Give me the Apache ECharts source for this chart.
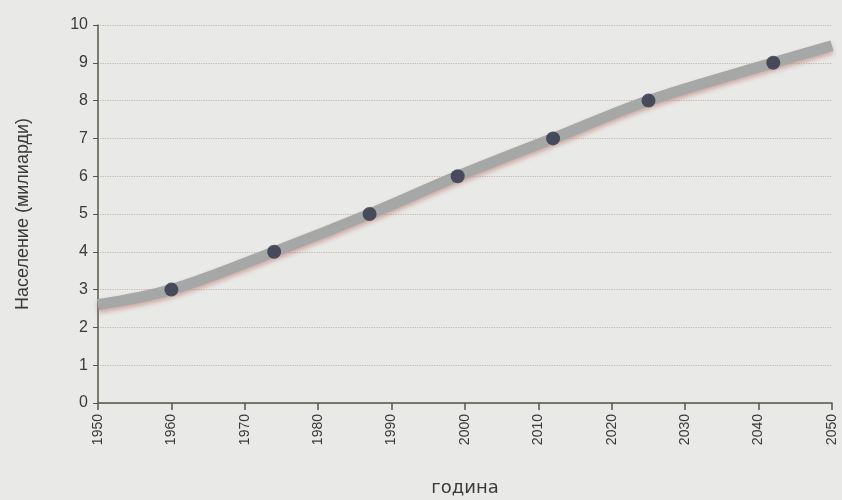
<!DOCTYPE html>
<html>
<head>
<meta charset="utf-8">
<script src="https://cdn.jsdelivr.net/npm/echarts@6/dist/echarts.min.js"></script>
<style>
  html, body { margin: 0; padding: 0; background: #e9e9e7; }
  #chart { width: 842px; height: 500px; }
</style>
</head>
<body>
<div id="chart"></div>
<script>
// население на светот, милиарди
var lineYears = [1950, 1960, 1974, 1987, 1999, 2012, 2025, 2042, 2050];
var lineValues = [2.6, 3.0, 4.0, 5.0, 6.0, 7.0, 8.0, 9.0, 9.45];
// точки на секоја милијарда
var dotYears = [1960, 1974, 1987, 1999, 2012, 2025, 2042];
var dotValues = [3, 4, 5, 6, 7, 8, 9];

var yTicks = [0, 1, 2, 3, 4, 5, 6, 7, 8, 9, 10];
var xTicks = [1950, 1960, 1970, 1980, 1990, 2000, 2010, 2020, 2030, 2040, 2050];

var lineData = lineYears.map(function (y, i) { return [y, lineValues[i]]; });
var dotData = dotYears.map(function (y, i) { return [y, dotValues[i]]; });

var chart = echarts.init(document.getElementById('chart'));

chart.setOption({
  backgroundColor: '#e9e9e7',
  animation: false,
  grid: { left: 98, right: 10, top: 25, bottom: 97, outerBoundsMode: 'none' },
  xAxis: {
    type: 'value',
    min: xTicks[0],
    max: xTicks[xTicks.length - 1],
    interval: 10,
    name: 'година',
    nameLocation: 'middle',
    nameGap: 76,
    nameTextStyle: { fontSize: 18, color: '#3a3a3a', fontFamily: 'DejaVu Sans' },
    axisLine: { lineStyle: { color: '#55564c', width: 1.5 } },
    axisTick: { show: true, length: 7, lineStyle: { color: '#55564c', width: 1.5 } },
    axisLabel: {
      rotate: 90,
      margin: 11,
      fontSize: 14,
      color: '#3a3a3a',
      fontFamily: 'Liberation Sans',
      formatter: function (v) { return String(v); }
    },
    splitLine: { show: false }
  },
  yAxis: {
    type: 'value',
    min: yTicks[0],
    max: yTicks[yTicks.length - 1],
    interval: 1,
    name: 'Население (милиарди)',
    nameLocation: 'middle',
    nameGap: 66,
    nameTextStyle: { fontSize: 18, color: '#3a3a3a', fontFamily: 'Liberation Sans' },
    axisLine: { show: true, lineStyle: { color: '#55564c', width: 1.5 } },
    axisTick: { show: true, length: 5, lineStyle: { color: '#55564c', width: 1 } },
    axisLabel: { fontSize: 16, color: '#3a3a3a', margin: 10, fontFamily: 'Liberation Sans' },
    splitLine: { show: true, lineStyle: { color: '#c8b6ae', type: 'dotted', width: 1.2 } }
  },
  series: [
    {
      type: 'line',
      data: lineData,
      smooth: 0.35,
      showSymbol: false,
      lineStyle: {
        color: '#a5a8a6',
        width: 11,
        shadowColor: 'rgba(185, 120, 110, 0.55)',
        shadowBlur: 4,
        shadowOffsetY: 3
      },
      z: 2
    },
    {
      type: 'scatter',
      data: dotData,
      symbolSize: 14,
      itemStyle: { color: '#2f3247' },
      z: 3
    }
  ]
});
</script>
</body>
</html>
